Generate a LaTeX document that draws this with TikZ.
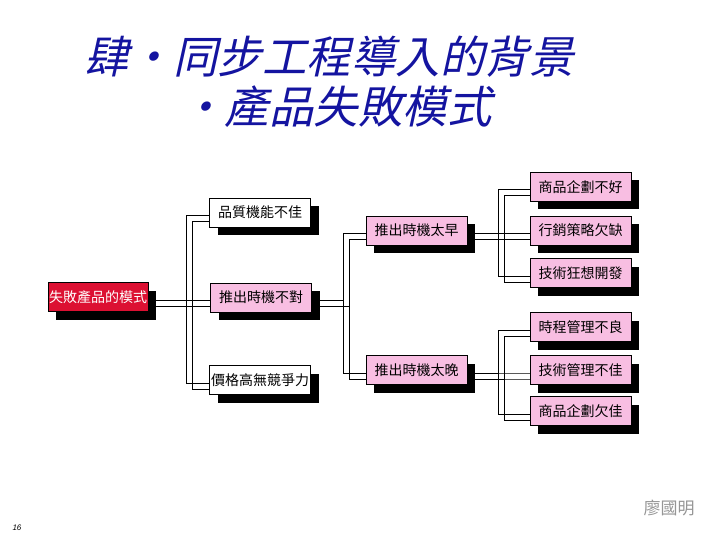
\documentclass[tikz,border=0pt]{standalone}
\usepackage{fontspec}
\setmainfont{Liberation Sans}
\newfontfamily\cjk{Noto Sans CJK TC}
\newfontfamily\cjktitle[FakeSlant=0.22]{Noto Sans CJK TC}
\usetikzlibrary{calc,shadows,backgrounds}
\definecolor{boxpink}{RGB}{248,190,226}
\definecolor{rootred}{RGB}{220,16,50}
\definecolor{titleblue}{RGB}{20,20,160}
\definecolor{signgray}{RGB}{150,150,150}
\newcommand\elbow[4]{%
  \draw[conn] ($(#1.center)+(#4,3+#4)$) -| ($(#2.center -| #3)+(#4,3+#4)$) -- ($(#2.center)+(#4,3+#4)$);}
\newcommand\dblelbow[3]{\elbow{#1}{#2}{#3}{0}\elbow{#1}{#2}{#3}{6}}
\begin{document}
\begin{tikzpicture}[x=1pt,y=-1pt,
  box/.style={draw=black, line width=0.8pt, fill=boxpink, minimum height=29pt,
    minimum width=101pt, inner sep=0pt, text=black,
    font=\cjk\fontsize{14}{14}\selectfont,
    drop shadow={shadow xshift=8pt, shadow yshift=-8pt, fill=black, opacity=1}},
  whitebox/.style={box, fill=white},
  rootbox/.style={box, fill=rootred, text=white, minimum width=100pt},
  conn/.style={draw=black, line width=1pt},
  titletext/.style={anchor=west, inner sep=0pt, text=titleblue,
    font=\cjktitle\fontsize{44.5}{44.5}\selectfont}]
\useasboundingbox (0,0) rectangle (720,540);

% title
\node[titletext] (title1) at (84,57) {肆・同步工程導入的背景};
\node[titletext] (title2) at (180,107) {・產品失敗模式};

% boxes
\node[rootbox] (root) at (98,297) {失敗產品的模式};
\node[whitebox] (quality) at (260,212.5) {品質機能不佳};
\node[box] (timing) at (261,297.5) {推出時機不對};
\node[whitebox] (price) at (260,380) {價格高無競爭力};
\node[box] (early) at (416.5,230.5) {推出時機太早};
\node[box] (late) at (416.5,370) {推出時機太晚};
\node[box] (e1) at (580.5,187) {商品企劃不好};
\node[box] (e2) at (580.5,230.5) {行銷策略欠缺};
\node[box] (e3) at (580.5,273) {技術狂想開發};
\node[box] (l1) at (580.5,327) {時程管理不良};
\node[box] (l2) at (580.5,370) {技術管理不佳};
\node[box] (l3) at (580.5,411) {商品企劃欠佳};

\coordinate (v1) at (186,0);
\coordinate (v2) at (343,0);
\coordinate (v3) at (498,0);

\begin{scope}[on background layer]
  \fill[white] (0,0) rectangle (720,540);
  \dblelbow{root}{quality}{v1}
  \dblelbow{root}{timing}{v1}
  \dblelbow{root}{price}{v1}
  \dblelbow{timing}{early}{v2}
  \dblelbow{timing}{late}{v2}
  \dblelbow{early}{e1}{v3}
  \dblelbow{early}{e2}{v3}
  \dblelbow{early}{e3}{v3}
  \dblelbow{late}{l1}{v3}
  \dblelbow{late}{l2}{v3}
  \dblelbow{late}{l3}{v3}
\end{scope}

% footer
\node[inner sep=0pt, text=signgray, font=\cjk\fontsize{17}{17}\selectfont] (sign) at (669,508) {廖國明};
\node[inner sep=0pt, font=\itshape\fontsize{8}{8}\selectfont] (page) at (17,528) {16};
\end{tikzpicture}
\end{document}
